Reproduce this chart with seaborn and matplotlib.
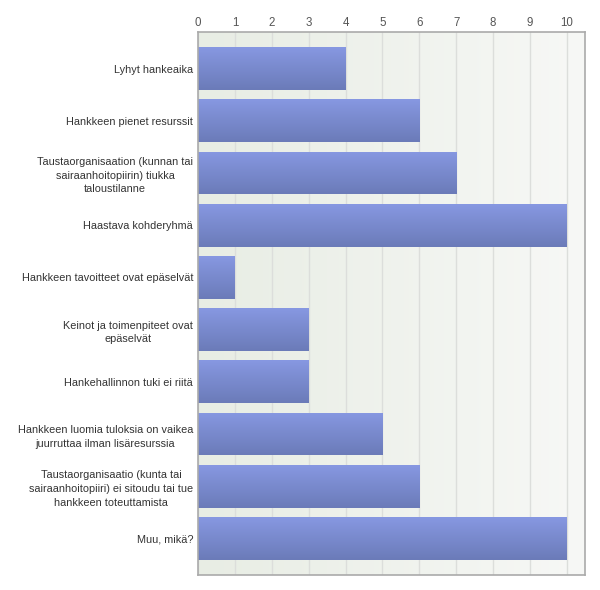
import numpy as np
import pandas as pd
import matplotlib
matplotlib.use("Agg")
import matplotlib.pyplot as plt
import seaborn as sns
from matplotlib.colors import LinearSegmentedColormap

categories = [
    "Lyhyt hankeaika",
    "Hankkeen pienet resurssit",
    "Taustaorganisaation (kunnan tai\nsairaanhoitopiirin) tiukka\ntaloustilanne",
    "Haastava kohderyhmä",
    "Hankkeen tavoitteet ovat epäselvät",
    "Keinot ja toimenpiteet ovat\nepäselvät",
    "Hankehallinnon tuki ei riitä",
    "Hankkeen luomia tuloksia on vaikea\njuurruttaa ilman lisäresurssia",
    "Taustaorganisaatio (kunta tai\nsairaanhoitopiiri) ei sitoudu tai tue\nhankkeen toteuttamista",
    "Muu, mikä?",
]
values = [4, 6, 7, 10, 1, 3, 3, 5, 6, 10]
x_ticks = list(range(0, 11))

df = pd.DataFrame({"cat": categories, "val": values})

sns.set_style("white")
plt.rcParams['font.family'] = ['Liberation Sans', 'DejaVu Sans']

fig = plt.figure(figsize=(6, 5.9), dpi=100)
ax = fig.add_axes([198/600, 1-575/590, (585-198)/600, (575-32)/590])

sns.barplot(data=df, x="val", y="cat", orient="h", ax=ax, width=0.82,
            color="#7b8bd0", edgecolor="none", linewidth=0, zorder=3)

ax.set_xlim(0, 10.49)
ax.set_ylim(9.7, -0.7)

# background gradient
bg = LinearSegmentedColormap.from_list("bg", ["#e8ede4", "#f7f8f6"])
grad = np.linspace(0, 1, 256).reshape(1, -1)
ax.imshow(grad, cmap=bg, aspect="auto", extent=[0, 10.49, 9.7, -0.7], zorder=0)

# bar gradients
barcm = LinearSegmentedColormap.from_list("bar", ["#8798e2", "#6b7bb8"])
vgrad = np.linspace(0, 1, 256).reshape(-1, 1)
for p in ax.patches:
    x0, y0 = p.get_x(), p.get_y()
    w, h = p.get_width(), p.get_height()
    im = ax.imshow(vgrad, cmap=barcm, aspect="auto",
                   extent=[x0, x0 + w, y0 + h, y0], zorder=4)
    im.set_clip_path(p)
    p.set_facecolor("none")

ax.set_xlim(0, 10.49)
ax.set_ylim(9.7, -0.7)

ax.set_xticks(x_ticks)
ax.set_xticklabels([str(t) for t in x_ticks])
ax.xaxis.tick_top()
ax.grid(axis="x", color="#dcdedb", linewidth=1, zorder=1)
ax.set_axisbelow(True)
for sp in ax.spines.values():
    sp.set_color("#aaaaaa")
    sp.set_linewidth(1.2)
    sp.set_zorder(6)

ax.tick_params(axis="x", length=0, pad=2.5, labelsize=8.3, labelcolor="#555555")
ax.tick_params(axis="y", length=0, pad=3.5, labelsize=7.8, labelcolor="#333333")
for lbl in ax.get_yticklabels():
    lbl.set_multialignment("center")
    lbl.set_linespacing(1.45)
ax.set_xlabel("")
ax.set_ylabel("")

fig.savefig("out.png", dpi=100)
